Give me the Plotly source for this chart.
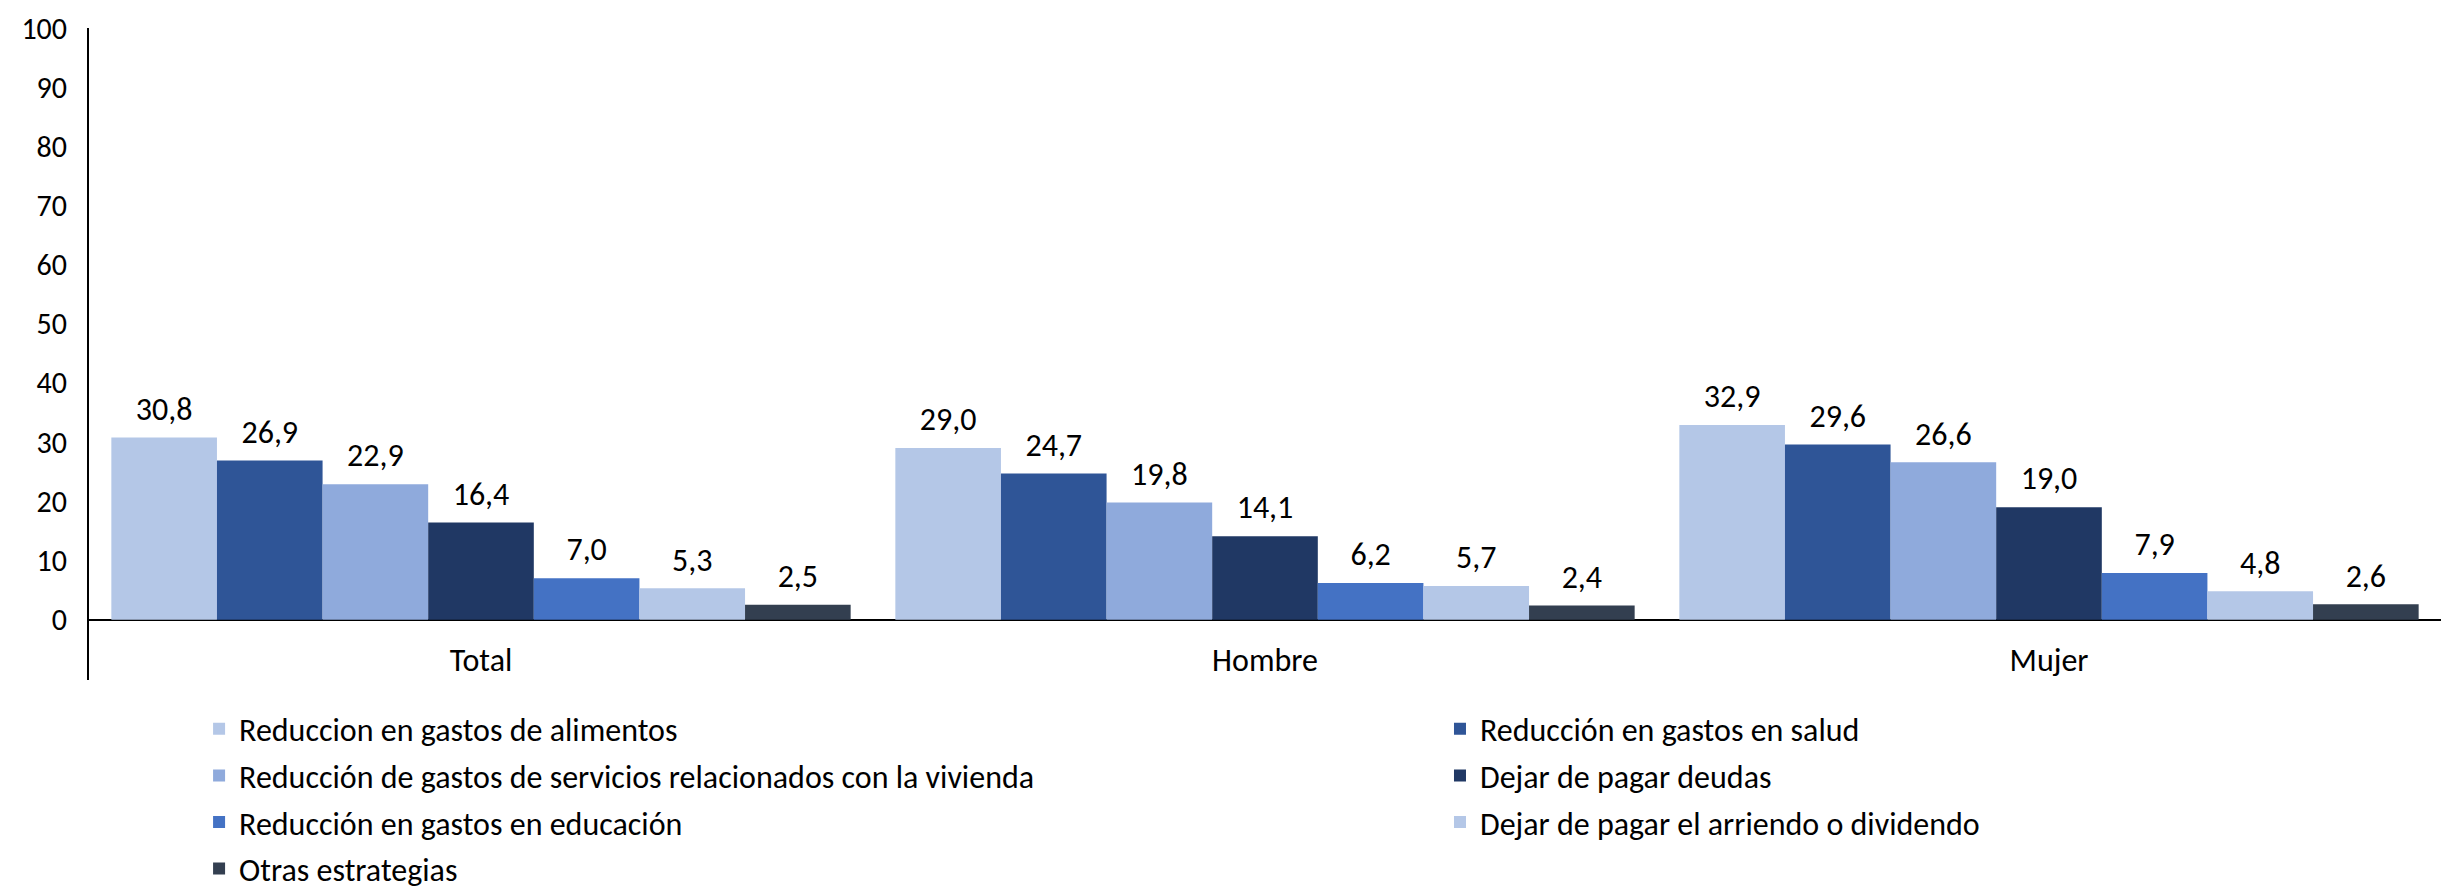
import plotly.graph_objects as go

# categories and series (values in %)
categories = ["Total", "Hombre", "Mujer"]

alimentos = [30.8, 29.0, 32.9]
salud = [26.9, 24.7, 29.6]
vivienda = [22.9, 19.8, 26.6]
deudas = [16.4, 14.1, 19.0]
educacion = [7.0, 6.2, 7.9]
arriendo = [5.3, 5.7, 4.8]
otras = [2.5, 2.4, 2.6]

series_names = [
    "Reduccion en gastos de alimentos",
    "Reducción en gastos en salud",
    "Reducción de gastos de servicios relacionados con la vivienda",
    "Dejar de pagar deudas",
    "Reducción en gastos en educación",
    "Dejar de pagar el arriendo o dividendo",
    "Otras estrategias",
]
series_values = [alimentos, salud, vivienda, deudas, educacion, arriendo, otras]
colors = ["#B4C7E7", "#2F5597", "#8FAADC", "#203864", "#4472C4", "#B4C7E7", "#333F50"]
# left legend column gets items 0,2,4,6 ; right column 1,3,5
legend_ids = ["legend", "legend2", "legend", "legend2", "legend", "legend2", "legend"]

FONT = "Calibri, Carlito, Lato, sans-serif"
GAP = 0.057

fig = go.Figure()
for i, (name, vals) in enumerate(zip(series_names, series_values)):
    fig.add_trace(go.Bar(
        x=categories,
        y=vals,
        name=name,
        marker_color=colors[i],
        marker_line_width=0,
        legend=legend_ids[i],
        legendgroup=f"g{i}",
    ))

# value labels: grouped scatter text sitting a bit above each bar
for i, vals in enumerate(series_values):
    fig.add_trace(go.Scatter(
        x=categories,
        y=vals,
        mode="markers+text",
        marker=dict(size=14, opacity=0),
        texttemplate="%{y:.1f}",
        textposition="top center",
        textfont=dict(size=32, color="black", family=FONT),
        cliponaxis=False,
        showlegend=False,
        hoverinfo="skip",
    ))

legend_common = dict(
    orientation="v",
    yanchor="top",
    xanchor="left",
    y=-0.033,
    font=dict(size=32, color="black", family=FONT),
    bgcolor="rgba(0,0,0,0)",
    traceorder="grouped",
    tracegroupgap=2,
)

fig.update_layout(
    width=2451,
    height=889,
    barmode="group",
    bargap=GAP,
    bargroupgap=0,
    scattermode="group",
    scattergap=GAP,
    separators=",.",
    plot_bgcolor="white",
    paper_bgcolor="white",
    font=dict(family=FONT, size=30, color="black"),
    # page body has an 8px margin, compensate here
    margin=dict(l=81, r=18, t=20, b=217, autoexpand=False),
    showlegend=True,
    legend=dict(x=0.0468, **legend_common),
    legend2=dict(x=0.5744, **legend_common),
    xaxis=dict(
        showline=False,
        showgrid=False,
        ticks="",
        ticklabelposition="inside",
        tickfont=dict(size=32, family=FONT, color="black"),
    ),
    yaxis=dict(
        range=[-10.2, 100],
        tickvals=[0, 10, 20, 30, 40, 50, 60, 70, 80, 90, 100],
        showgrid=False,
        showline=True,
        linecolor="black",
        linewidth=2,
        zeroline=True,
        zerolinecolor="black",
        zerolinewidth=2,
        ticks="",
        ticklabelstandoff=14,
        ticklabeloverflow="allow",
        tickfont=dict(size=30, family=FONT, color="black"),
    ),
)

fig.write_html("out.html")
